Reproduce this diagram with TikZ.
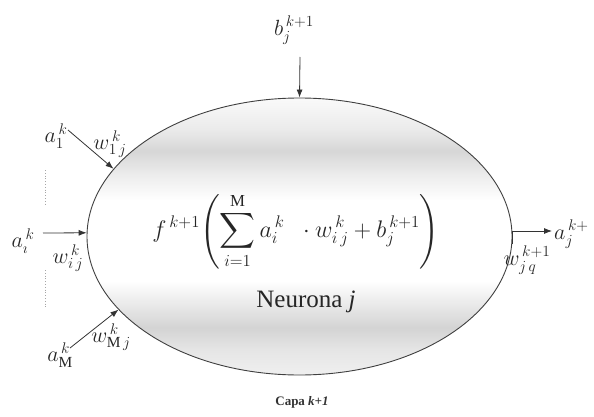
\RequirePackage{fix-cm}
\documentclass[tikz,border=0pt]{standalone}
\usepackage{amsmath}
\usepackage{fontspec}
\setmainfont{Liberation Serif}
\usetikzlibrary{shapes.geometric,arrows.meta}
\pgfdeclareverticalshading{neuronshade}{100bp}{color(0bp)=(black!6); color(25bp)=(black!6); color(29.5bp)=(black!10); color(33.5bp)=(black!17); color(37bp)=(black!10); color(42bp)=(white); color(56.5bp)=(white); color(61bp)=(black!7); color(65.5bp)=(black!16); color(69.25bp)=(black!8); color(75bp)=(black!2); color(100bp)=(black!2)}
\tikzset{
  lbl/.style={font=\fontsize{22}{26}\selectfont, inner sep=0pt, text=black!85},
  arr/.style={draw=black!80, line width=0.8pt, -{Latex[length=8pt,width=6pt]}},
  dotline/.style={draw=black!35, dotted, line width=0.8pt},
  neuron/.style={ellipse, draw=black!75, line width=0.9pt, minimum width=425pt, minimum height=277pt, inner sep=0pt, shading=neuronshade}
}
\begin{document}
\begin{tikzpicture}[x=1pt,y=1pt]
\useasboundingbox (0,0) rectangle (594,416);
% neuron body
\node[neuron] (ell) at (299.5,179.5) {};
% formula and name
\node[lbl, font=\fontsize{24}{28}\selectfont] (formula) at (296,185)
  {$\displaystyle f^{\,k+1}\!\left(\sum_{i=1}^{\mathrm{M}} a_i^{\,k}\;\;\cdot w_{i\,j}^{\,k} + b_j^{\,k+1}\right)$};
\node[lbl, font=\fontsize{25}{29}\selectfont] (name) at (306,114) {Neurona \textit{j}};
\node[inner sep=0pt, font=\fontsize{13}{15}\selectfont\bfseries, text=black!80] (capa) at (302,14) {Capa \textit{k+1}};
% bias
\node[lbl] (b) at (294,386) {$b_j^{\,k+1}$};
\coordinate (btop) at (300,359);
\draw[arr] (btop) -- (ell.north);
% input 1
\node[lbl] (a1) at (56,280) {$a_1^{\,k}$};
\node[lbl] (w1) at (110,272) {$w_{1\,j}^{\,k}$};
\coordinate (a1s) at (68,286);
\draw[arr] (a1s) -- (ell.160);
% input i
\node[lbl] (ai) at (23,175) {$a_{\imath}^{\,k}$};
\node[lbl] (wi) at (68,158) {$w_{i\,j}^{\,k}$};
\coordinate (ais) at (43,183);
\draw[arr] (ais) -- (ell.179);
% input M
\node[lbl] (aM) at (60,61) {$a_{\mathrm{M}}^{\,k}$};
\node[lbl] (wM) at (111,79) {$w_{\mathrm{M}\,j}^{\,k}$};
\coordinate (aMs) at (70,68);
\draw[arr] (aMs) -- (ell.202);
% dotted continuation marks
\coordinate (d1a) at (45,246);
\coordinate (d1b) at (45,210);
\coordinate (d2a) at (45,146);
\coordinate (d2b) at (45,108);
\draw[dotline] (d1a) -- (d1b);
\draw[dotline] (d2a) -- (d2b);
% output
\coordinate (outend) at (552,185);
\draw[arr] (ell.-2) |- (outend);
\node[lbl, anchor=west] (aout) at (554,182) {$a_j^{\,k+}$};
\node[lbl] (wout) at (527,156) {$w_{j\,q}^{\,k+1}$};
\end{tikzpicture}
\end{document}
